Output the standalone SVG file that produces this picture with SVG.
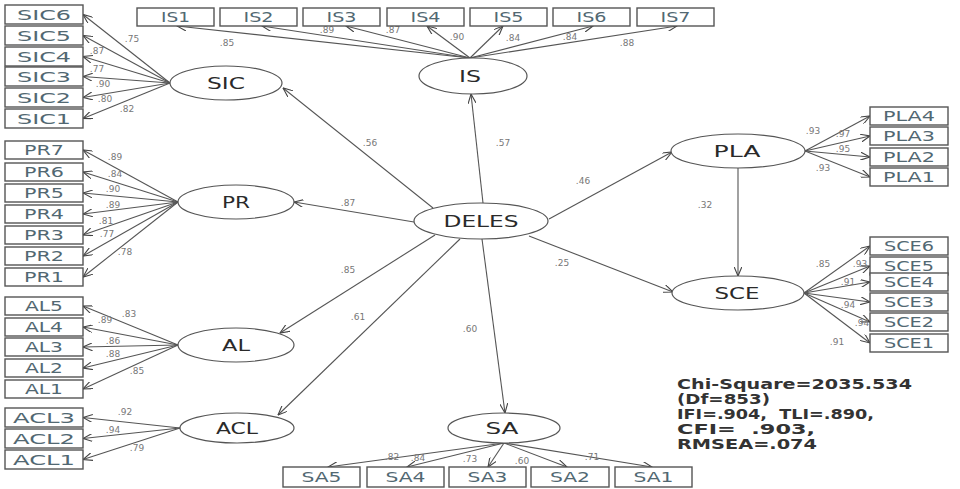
<svg xmlns="http://www.w3.org/2000/svg" width="960" height="489" viewBox="0 0 960 489">
<defs>
<marker id="ah" viewBox="0 0 10 8" refX="9.5" refY="4" markerWidth="10" markerHeight="8" markerUnits="userSpaceOnUse" orient="auto">
<path d="M0,0 L9.5,4 L0,8" fill="none" stroke="#444" stroke-width="1.1"/>
</marker>
</defs>
<style>
.bx{fill:#fff;stroke:#555;stroke-width:1.4}
.bt{font-family:"DejaVu Sans",sans-serif;font-size:13.5px;fill:#526872;text-anchor:middle}
.el{fill:#fff;stroke:#555;stroke-width:1.2}
.et{font-family:"DejaVu Sans",sans-serif;font-size:15px;fill:#2a2a2a;text-anchor:middle}
.ln{stroke:#555;stroke-width:1.1;fill:none;marker-end:url(#ah)}
.lb{font-family:"DejaVu Sans",sans-serif;font-size:9px;fill:#777;text-anchor:middle}
.st{font-family:"DejaVu Sans",sans-serif;font-size:14px;font-weight:bold;fill:#333}
</style>
<rect width="960" height="489" fill="#fff"/>
<g id="connectors">
<line class="ln" x1="170" y1="83" x2="83" y2="14.5"/>
<line class="ln" x1="170" y1="83" x2="83" y2="35.5"/>
<line class="ln" x1="170" y1="83" x2="83" y2="56.5"/>
<line class="ln" x1="170" y1="83" x2="83" y2="76.5"/>
<line class="ln" x1="170" y1="83" x2="83" y2="97.5"/>
<line class="ln" x1="170" y1="83" x2="83" y2="118.5"/>
<line class="ln" x1="178" y1="202" x2="83" y2="150"/>
<line class="ln" x1="178" y1="202" x2="83" y2="172"/>
<line class="ln" x1="178" y1="202" x2="83" y2="193"/>
<line class="ln" x1="178" y1="202" x2="83" y2="214"/>
<line class="ln" x1="178" y1="202" x2="83" y2="235"/>
<line class="ln" x1="178" y1="202" x2="83" y2="256"/>
<line class="ln" x1="178" y1="202" x2="83" y2="277"/>
<line class="ln" x1="178" y1="345" x2="83" y2="306"/>
<line class="ln" x1="178" y1="345" x2="83" y2="327"/>
<line class="ln" x1="178" y1="345" x2="83" y2="347"/>
<line class="ln" x1="178" y1="345" x2="83" y2="368"/>
<line class="ln" x1="178" y1="345" x2="83" y2="389"/>
<line class="ln" x1="180" y1="428" x2="83" y2="417.5"/>
<line class="ln" x1="180" y1="428" x2="83" y2="438.5"/>
<line class="ln" x1="180" y1="428" x2="83" y2="459.5"/>
<line class="ln" x1="470" y1="58" x2="177" y2="26"/>
<line class="ln" x1="470" y1="58" x2="262" y2="26"/>
<line class="ln" x1="470" y1="58" x2="346" y2="26"/>
<line class="ln" x1="470" y1="58" x2="427" y2="26"/>
<line class="ln" x1="470" y1="58" x2="503" y2="26"/>
<line class="ln" x1="470" y1="58" x2="593" y2="26"/>
<line class="ln" x1="470" y1="58" x2="677" y2="26"/>
<line class="ln" x1="504" y1="443" x2="328" y2="467"/>
<line class="ln" x1="504" y1="443" x2="407" y2="467"/>
<line class="ln" x1="504" y1="443" x2="488" y2="467"/>
<line class="ln" x1="504" y1="443" x2="567" y2="467"/>
<line class="ln" x1="504" y1="443" x2="652" y2="467"/>
<line class="ln" x1="805" y1="151" x2="870" y2="116"/>
<line class="ln" x1="805" y1="151" x2="870" y2="136"/>
<line class="ln" x1="805" y1="151" x2="870" y2="157"/>
<line class="ln" x1="805" y1="151" x2="870" y2="177"/>
<line class="ln" x1="804" y1="293" x2="870" y2="246"/>
<line class="ln" x1="804" y1="293" x2="870" y2="266"/>
<line class="ln" x1="804" y1="293" x2="870" y2="282"/>
<line class="ln" x1="804" y1="293" x2="870" y2="302"/>
<line class="ln" x1="804" y1="293" x2="870" y2="322"/>
<line class="ln" x1="804" y1="293" x2="870" y2="343"/>
<line class="ln" x1="433" y1="208" x2="283" y2="88"/>
<line class="ln" x1="483" y1="203" x2="471" y2="94"/>
<line class="ln" x1="414" y1="222" x2="294" y2="202"/>
<line class="ln" x1="549" y1="219" x2="672" y2="152"/>
<line class="ln" x1="529" y1="236" x2="673" y2="292"/>
<line class="ln" x1="435" y1="235" x2="280" y2="333"/>
<line class="ln" x1="460" y1="239" x2="278" y2="415"/>
<line class="ln" x1="482" y1="239" x2="505" y2="413"/>
<line class="ln" x1="738" y1="168" x2="738" y2="276"/>
</g>
<g id="path-labels">
<text class="lb" x="370" y="146">.56</text>
<text class="lb" x="503" y="146">.57</text>
<text class="lb" x="583" y="184">.46</text>
<text class="lb" x="348" y="206">.87</text>
<text class="lb" x="562" y="266">.25</text>
<text class="lb" x="348" y="273">.85</text>
<text class="lb" x="358" y="320">.61</text>
<text class="lb" x="470" y="332">.60</text>
<text class="lb" x="705" y="208">.32</text>
<text class="lb" x="132" y="42">.75</text>
<text class="lb" x="97" y="54">.87</text>
<text class="lb" x="97" y="72">.77</text>
<text class="lb" x="103" y="87">.90</text>
<text class="lb" x="105" y="102">.80</text>
<text class="lb" x="127" y="112">.82</text>
<text class="lb" x="115" y="160">.89</text>
<text class="lb" x="115" y="177">.84</text>
<text class="lb" x="113" y="192">.90</text>
<text class="lb" x="113" y="208">.89</text>
<text class="lb" x="106" y="224">.81</text>
<text class="lb" x="107" y="237">.77</text>
<text class="lb" x="125" y="255">.78</text>
<text class="lb" x="129" y="317">.83</text>
<text class="lb" x="105" y="323">.89</text>
<text class="lb" x="113" y="344">.86</text>
<text class="lb" x="113" y="357">.88</text>
<text class="lb" x="137" y="374">.85</text>
<text class="lb" x="125" y="415">.92</text>
<text class="lb" x="113" y="433">.94</text>
<text class="lb" x="137" y="451">.79</text>
<text class="lb" x="227" y="46">.85</text>
<text class="lb" x="327" y="33">.89</text>
<text class="lb" x="393" y="33">.87</text>
<text class="lb" x="457" y="40">.90</text>
<text class="lb" x="513" y="41">.84</text>
<text class="lb" x="570" y="40">.84</text>
<text class="lb" x="627" y="46">.88</text>
<text class="lb" x="813" y="134">.93</text>
<text class="lb" x="843" y="137">.97</text>
<text class="lb" x="843" y="152">.95</text>
<text class="lb" x="823" y="171">.93</text>
<text class="lb" x="823" y="267">.85</text>
<text class="lb" x="860" y="267">.93</text>
<text class="lb" x="848" y="285">.91</text>
<text class="lb" x="848" y="308">.94</text>
<text class="lb" x="862" y="326">.94</text>
<text class="lb" x="837" y="345">.91</text>
<text class="lb" x="392" y="460">.82</text>
<text class="lb" x="418" y="461">.84</text>
<text class="lb" x="470" y="462">.73</text>
<text class="lb" x="522" y="464">.60</text>
<text class="lb" x="592" y="460">.71</text>
</g>
<g id="SIC"><ellipse class="el" cx="226" cy="83" rx="56" ry="17"/><text class="et" x="226" y="89" textLength="38" lengthAdjust="spacingAndGlyphs">SIC</text></g>
<g id="PR"><ellipse class="el" cx="236" cy="202" rx="58" ry="17"/><text class="et" x="236" y="208" textLength="28" lengthAdjust="spacingAndGlyphs">PR</text></g>
<g id="AL"><ellipse class="el" cx="236" cy="345" rx="58" ry="17"/><text class="et" x="236" y="351" textLength="28" lengthAdjust="spacingAndGlyphs">AL</text></g>
<g id="ACL"><ellipse class="el" cx="237" cy="428" rx="57" ry="15"/><text class="et" x="237" y="434" textLength="42" lengthAdjust="spacingAndGlyphs">ACL</text></g>
<g id="IS"><ellipse class="el" cx="473" cy="76" rx="54" ry="18"/><text class="et" x="470" y="82" textLength="22" lengthAdjust="spacingAndGlyphs">IS</text></g>
<g id="DELES"><ellipse class="el" cx="481" cy="221" rx="67" ry="18"/><text class="et" x="481" y="227" textLength="75" lengthAdjust="spacingAndGlyphs">DELES</text></g>
<g id="PLA"><ellipse class="el" cx="738" cy="151" rx="67" ry="17"/><text class="et" x="737" y="157" textLength="47" lengthAdjust="spacingAndGlyphs">PLA</text></g>
<g id="SCE"><ellipse class="el" cx="738" cy="293" rx="66" ry="17"/><text class="et" x="737" y="299" textLength="45" lengthAdjust="spacingAndGlyphs">SCE</text></g>
<g id="SA"><ellipse class="el" cx="504" cy="428" rx="56" ry="15"/><text class="et" x="502" y="434" textLength="33" lengthAdjust="spacingAndGlyphs">SA</text></g>
<g id="SIC6"><rect class="bx" x="5" y="5" width="78" height="19"/><text class="bt" x="44" y="20" textLength="54" lengthAdjust="spacingAndGlyphs">SIC6</text></g>
<g id="SIC5"><rect class="bx" x="5" y="26" width="78" height="19"/><text class="bt" x="44" y="41" textLength="54" lengthAdjust="spacingAndGlyphs">SIC5</text></g>
<g id="SIC4"><rect class="bx" x="5" y="47" width="78" height="19"/><text class="bt" x="44" y="62" textLength="54" lengthAdjust="spacingAndGlyphs">SIC4</text></g>
<g id="SIC3"><rect class="bx" x="5" y="67" width="78" height="19"/><text class="bt" x="44" y="82" textLength="54" lengthAdjust="spacingAndGlyphs">SIC3</text></g>
<g id="SIC2"><rect class="bx" x="5" y="88" width="78" height="19"/><text class="bt" x="44" y="103" textLength="54" lengthAdjust="spacingAndGlyphs">SIC2</text></g>
<g id="SIC1"><rect class="bx" x="5" y="109" width="78" height="19"/><text class="bt" x="44" y="124" textLength="54" lengthAdjust="spacingAndGlyphs">SIC1</text></g>
<g id="PR7"><rect class="bx" x="5" y="141" width="78" height="18"/><text class="bt" x="44" y="155" textLength="40" lengthAdjust="spacingAndGlyphs">PR7</text></g>
<g id="PR6"><rect class="bx" x="5" y="163" width="78" height="18"/><text class="bt" x="44" y="177" textLength="40" lengthAdjust="spacingAndGlyphs">PR6</text></g>
<g id="PR5"><rect class="bx" x="5" y="184" width="78" height="18"/><text class="bt" x="44" y="198" textLength="40" lengthAdjust="spacingAndGlyphs">PR5</text></g>
<g id="PR4"><rect class="bx" x="5" y="205" width="78" height="18"/><text class="bt" x="44" y="219" textLength="40" lengthAdjust="spacingAndGlyphs">PR4</text></g>
<g id="PR3"><rect class="bx" x="5" y="226" width="78" height="18"/><text class="bt" x="44" y="240" textLength="40" lengthAdjust="spacingAndGlyphs">PR3</text></g>
<g id="PR2"><rect class="bx" x="5" y="247" width="78" height="18"/><text class="bt" x="44" y="261" textLength="40" lengthAdjust="spacingAndGlyphs">PR2</text></g>
<g id="PR1"><rect class="bx" x="5" y="268" width="78" height="18"/><text class="bt" x="44" y="282" textLength="40" lengthAdjust="spacingAndGlyphs">PR1</text></g>
<g id="AL5"><rect class="bx" x="5" y="297" width="78" height="18"/><text class="bt" x="44" y="311" textLength="38" lengthAdjust="spacingAndGlyphs">AL5</text></g>
<g id="AL4"><rect class="bx" x="5" y="318" width="78" height="18"/><text class="bt" x="44" y="332" textLength="38" lengthAdjust="spacingAndGlyphs">AL4</text></g>
<g id="AL3"><rect class="bx" x="5" y="338" width="78" height="18"/><text class="bt" x="44" y="352" textLength="38" lengthAdjust="spacingAndGlyphs">AL3</text></g>
<g id="AL2"><rect class="bx" x="5" y="359" width="78" height="18"/><text class="bt" x="44" y="373" textLength="38" lengthAdjust="spacingAndGlyphs">AL2</text></g>
<g id="AL1"><rect class="bx" x="5" y="380" width="78" height="18"/><text class="bt" x="44" y="394" textLength="38" lengthAdjust="spacingAndGlyphs">AL1</text></g>
<g id="ACL3"><rect class="bx" x="5" y="408" width="78" height="19"/><text class="bt" x="44" y="423" textLength="62" lengthAdjust="spacingAndGlyphs">ACL3</text></g>
<g id="ACL2"><rect class="bx" x="5" y="429" width="78" height="19"/><text class="bt" x="44" y="444" textLength="62" lengthAdjust="spacingAndGlyphs">ACL2</text></g>
<g id="ACL1"><rect class="bx" x="5" y="450" width="78" height="19"/><text class="bt" x="44" y="465" textLength="62" lengthAdjust="spacingAndGlyphs">ACL1</text></g>
<g id="IS1"><rect class="bx" x="137" y="8" width="77" height="18"/><text class="bt" x="175.5" y="22" textLength="29" lengthAdjust="spacingAndGlyphs">IS1</text></g>
<g id="IS2"><rect class="bx" x="220" y="8" width="77" height="18"/><text class="bt" x="258.5" y="22" textLength="30" lengthAdjust="spacingAndGlyphs">IS2</text></g>
<g id="IS3"><rect class="bx" x="303" y="8" width="77" height="18"/><text class="bt" x="341.5" y="22" textLength="30" lengthAdjust="spacingAndGlyphs">IS3</text></g>
<g id="IS4"><rect class="bx" x="387" y="8" width="77" height="18"/><text class="bt" x="425.5" y="22" textLength="30" lengthAdjust="spacingAndGlyphs">IS4</text></g>
<g id="IS5"><rect class="bx" x="470" y="8" width="77" height="18"/><text class="bt" x="508.5" y="22" textLength="30" lengthAdjust="spacingAndGlyphs">IS5</text></g>
<g id="IS6"><rect class="bx" x="553" y="8" width="77" height="18"/><text class="bt" x="591.5" y="22" textLength="30" lengthAdjust="spacingAndGlyphs">IS6</text></g>
<g id="IS7"><rect class="bx" x="637" y="8" width="77" height="18"/><text class="bt" x="675.5" y="22" textLength="30" lengthAdjust="spacingAndGlyphs">IS7</text></g>
<g id="SA5"><rect class="bx" x="283" y="467" width="77" height="20"/><text class="bt" x="321.5" y="482" textLength="40" lengthAdjust="spacingAndGlyphs">SA5</text></g>
<g id="SA4"><rect class="bx" x="367" y="467" width="77" height="20"/><text class="bt" x="405.5" y="482" textLength="40" lengthAdjust="spacingAndGlyphs">SA4</text></g>
<g id="SA3"><rect class="bx" x="449" y="467" width="77" height="20"/><text class="bt" x="487.5" y="482" textLength="40" lengthAdjust="spacingAndGlyphs">SA3</text></g>
<g id="SA2"><rect class="bx" x="531" y="467" width="78" height="20"/><text class="bt" x="570" y="482" textLength="40" lengthAdjust="spacingAndGlyphs">SA2</text></g>
<g id="SA1"><rect class="bx" x="615" y="467" width="77" height="20"/><text class="bt" x="653.5" y="482" textLength="40" lengthAdjust="spacingAndGlyphs">SA1</text></g>
<g id="PLA4"><rect class="bx" x="870" y="107" width="78" height="18"/><text class="bt" x="909" y="121" textLength="52" lengthAdjust="spacingAndGlyphs">PLA4</text></g>
<g id="PLA3"><rect class="bx" x="870" y="127" width="78" height="18"/><text class="bt" x="909" y="141" textLength="52" lengthAdjust="spacingAndGlyphs">PLA3</text></g>
<g id="PLA2"><rect class="bx" x="870" y="148" width="78" height="18"/><text class="bt" x="909" y="162" textLength="52" lengthAdjust="spacingAndGlyphs">PLA2</text></g>
<g id="PLA1"><rect class="bx" x="870" y="168" width="78" height="18"/><text class="bt" x="909" y="182" textLength="52" lengthAdjust="spacingAndGlyphs">PLA1</text></g>
<g id="SCE6"><rect class="bx" x="870" y="237" width="78" height="18"/><text class="bt" x="909" y="251" textLength="50" lengthAdjust="spacingAndGlyphs">SCE6</text></g>
<g id="SCE5"><rect class="bx" x="870" y="257" width="78" height="18"/><text class="bt" x="909" y="271" textLength="50" lengthAdjust="spacingAndGlyphs">SCE5</text></g>
<g id="SCE4"><rect class="bx" x="870" y="273" width="78" height="18"/><text class="bt" x="909" y="287" textLength="50" lengthAdjust="spacingAndGlyphs">SCE4</text></g>
<g id="SCE3"><rect class="bx" x="870" y="293" width="78" height="18"/><text class="bt" x="909" y="307" textLength="50" lengthAdjust="spacingAndGlyphs">SCE3</text></g>
<g id="SCE2"><rect class="bx" x="870" y="313" width="78" height="18"/><text class="bt" x="909" y="327" textLength="50" lengthAdjust="spacingAndGlyphs">SCE2</text></g>
<g id="SCE1"><rect class="bx" x="870" y="334" width="78" height="18"/><text class="bt" x="909" y="348" textLength="50" lengthAdjust="spacingAndGlyphs">SCE1</text></g>
<g id="fit-stats">
<text class="st" x="677" y="389" textLength="235" lengthAdjust="spacingAndGlyphs">Chi-Square=2035.534</text>
<text class="st" x="677" y="404" textLength="93" lengthAdjust="spacingAndGlyphs">(Df=853)</text>
<text class="st" x="677" y="419" textLength="197" lengthAdjust="spacingAndGlyphs" xml:space="preserve">IFI=.904,  TLI=.890,</text>
<text class="st" x="677" y="434" textLength="138" lengthAdjust="spacingAndGlyphs" xml:space="preserve">CFI=  .903,</text>
<text class="st" x="677" y="449" textLength="140" lengthAdjust="spacingAndGlyphs">RMSEA=.074</text>
</g>
</svg>
